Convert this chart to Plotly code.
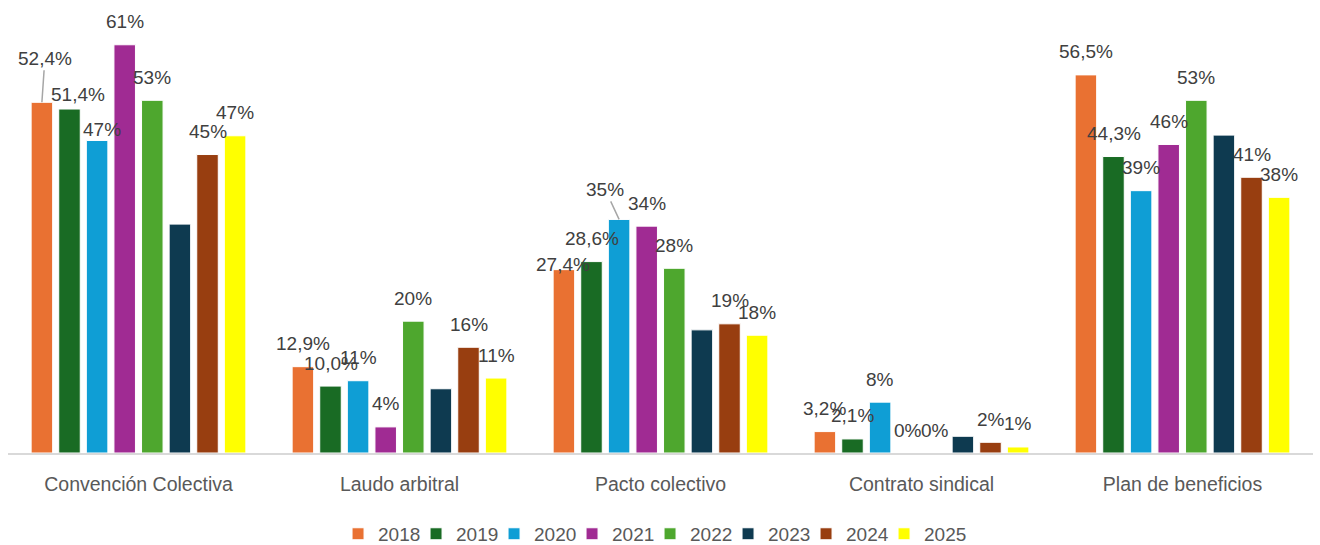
import plotly.graph_objects as go

categories = ["Convención Colectiva", "Laudo arbitral", "Pacto colectivo",
              "Contrato sindical", "Plan de beneficios"]
years = ["2018", "2019", "2020", "2021", "2022", "2023", "2024", "2025"]

v2018 = [52.4, 12.9, 27.4, 3.2, 56.5]
v2019 = [51.4, 10.0, 28.6, 2.1, 44.3]
v2020 = [46.7, 10.8, 34.9, 7.6, 39.2]
v2021 = [61.0, 3.9, 33.9, 0.0, 46.1]
v2022 = [52.7, 19.7, 27.6, 0.0, 52.7]
v2023 = [34.2, 9.6, 18.4, 2.5, 47.5]
v2024 = [44.6, 15.8, 19.3, 1.6, 41.2]
v2025 = [47.4, 11.2, 17.6, 0.9, 38.2]

series = [v2018, v2019, v2020, v2021, v2022, v2023, v2024, v2025]
decimals = [1, 1, 0, 0, 0, None, 0, 0]   # None = no data labels
colors = ["#E97132", "#196B24", "#0F9ED5", "#A02B93", "#4EA72E",
          "#0E3A50", "#983E10", "#FFFF00"]

# label placement tweaks: (series index, category index) -> (xshift, yshift, leader)
tweaks = {
    (0, 0): (3, 44, True),
    (1, 0): (8, 15, False),
    (2, 0): (5, 11, False),
    (0, 2): (-1, 5, False),
    (2, 2): (-14, 30, True),
}

FONT = "Arial, Liberation Sans, sans-serif"
bargap = 0.154
bargroupgap = 0.22

fig = go.Figure()
for yr, vals, col in zip(years, series, colors):
    fig.add_trace(go.Bar(name=yr, x=categories, y=vals,
                         marker=dict(color=col, line=dict(color="white", width=1))))

# invisible legend spacer (no drawn point) so that the last legend label is not clipped
fig.add_trace(go.Scatter(x=[categories[0]], y=[None], name=" ", mode="markers",
                         marker=dict(opacity=0, color="rgba(0,0,0,0)"),
                         hoverinfo="skip"))

def fmt(v, d):
    if d == 0:
        return f"{int(round(v))}%"
    return f"{v:.{d}f}".replace(".", ",") + "%"

n = len(years)
slot = (1 - bargap) / n
annotations = []
lab_font = dict(family=FONT, size=19, color="#404040")
for j, (vals, d) in enumerate(zip(series, decimals)):
    if d is None:
        continue
    for i, v in enumerate(vals):
        xpos = i + (j - (n - 1) / 2) * slot
        dx, dy, leader = tweaks.get((j, i), (0, 23, False))
        txt = fmt(v, d)
        if leader:
            annotations.append(dict(x=xpos, y=v, xref="x", yref="y", text=txt,
                                    showarrow=True, arrowhead=0, arrowwidth=1.5,
                                    arrowcolor="#A6A6A6", ax=dx, ay=-dy,
                                    font=lab_font))
        else:
            annotations.append(dict(x=xpos, y=v, xref="x", yref="y", text=txt,
                                    showarrow=False, xshift=dx, yshift=dy,
                                    yanchor="middle", xanchor="center",
                                    font=lab_font))

fig.update_layout(
    width=1320, height=545,
    margin=dict(l=8, r=7, t=18, b=92, autoexpand=False),
    barmode="group", bargap=bargap, bargroupgap=bargroupgap,
    plot_bgcolor="white", paper_bgcolor="white",
    font=dict(family=FONT, size=18, color="#595959"),
    xaxis=dict(showline=True, linecolor="#D9D9D9", linewidth=2,
               tickfont=dict(family=FONT, size=19.5, color="#595959"),
               ticks="", automargin=False, ticklabelstandoff=13),
    yaxis=dict(range=[0, 65], visible=False, showgrid=False, zeroline=False),
    legend=dict(orientation="h", x=0.2529, xanchor="left", y=-0.186, yanchor="middle",
                entrywidth=33, entrywidthmode="pixels",
                font=dict(family=FONT, size=19, color="#595959")),
    showlegend=True,
    annotations=annotations,
)

fig.write_html("out.html")
